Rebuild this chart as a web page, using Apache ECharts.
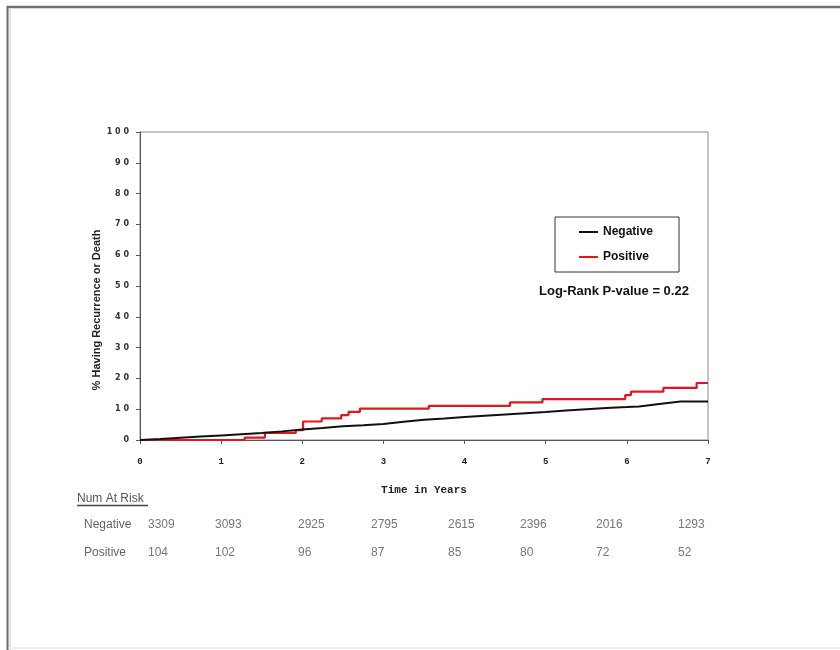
<!DOCTYPE html>
<html>
<head>
<meta charset="utf-8">
<script src="https://cdn.jsdelivr.net/npm/echarts@6/dist/echarts.min.js"></script>
<style>
  html, body { margin: 0; padding: 0; background: #fff; }
  #chart { width: 840px; height: 650px; }
</style>
</head>
<body>
<div id="chart"></div>
<script>
// cumulative % having recurrence or death, [years, percent]
const negativeCurve = [
  [0, 0], [0.25, 0.3], [0.5, 0.7], [0.75, 1.1], [1, 1.5], [1.25, 1.9], [1.5, 2.3],
  [1.75, 2.8], [2, 3.4], [2.25, 3.9], [2.5, 4.5], [2.75, 4.8], [3, 5.2], [3.25, 5.9],
  [3.5, 6.6], [3.75, 7.0], [4, 7.5], [4.25, 7.9], [4.5, 8.3], [4.75, 8.7], [5, 9.1],
  [5.25, 9.6], [5.5, 10.0], [5.75, 10.4], [6, 10.7], [6.15, 10.9], [6.4, 11.7],
  [6.66, 12.5], [7, 12.5]
];
const positiveCurve = [
  [0, 0], [1.29, 0.8], [1.54, 2.3], [1.92, 3.2], [2.01, 6.0], [2.24, 7.0], [2.48, 8.1],
  [2.57, 9.1], [2.71, 10.2], [3.56, 11.1], [4.56, 12.2], [4.96, 13.3], [5.98, 14.6],
  [6.05, 15.7], [6.45, 16.9], [6.86, 18.5], [7, 18.5]
];

// number at risk table
const riskGroups = ['Negative', 'Positive'];
const negativeAtRisk = [3309, 3093, 2925, 2795, 2615, 2396, 2016, 1293];
const positiveAtRisk = [104, 102, 96, 87, 85, 80, 72, 52];

// layout of the table columns (page pixels)
const riskColX = [148, 215, 298, 371, 448, 520, 596, 678];
const riskRowY = [525, 553];

const chart = echarts.init(document.getElementById('chart'));

const graphics = [
  // page frame
  {type: 'line', shape: {x1: 7, y1: 7, x2: 840, y2: 7}, style: {stroke: '#707070', lineWidth: 2.5}},
  {type: 'line', shape: {x1: 7.5, y1: 6, x2: 7.5, y2: 650}, style: {stroke: '#6a6a6a', lineWidth: 2}},
  {type: 'line', shape: {x1: 10, y1: 9, x2: 10, y2: 650}, style: {stroke: '#e4e4e4', lineWidth: 2}},
  {type: 'line', shape: {x1: 9, y1: 648, x2: 840, y2: 648}, style: {stroke: '#eeeeee', lineWidth: 2}},
  // y axis title
  {
    type: 'text', x: 97, y: 310, rotation: Math.PI / 2,
    style: {
      text: '% Having Recurrence or Death', fill: '#222',
      font: 'bold 11px "Liberation Sans", Arial, sans-serif',
      align: 'center', verticalAlign: 'middle'
    }
  },
  // p-value
  {
    type: 'text', x: 539, y: 291,
    style: {
      text: 'Log-Rank P-value = 0.22', fill: '#111',
      font: 'bold 13px "Liberation Sans", Arial, sans-serif',
      align: 'left', verticalAlign: 'middle'
    }
  },
  // table header
  {
    type: 'text', x: 77, y: 499,
    style: {
      text: 'Num At Risk', fill: '#555',
      font: '12px "Liberation Sans", Arial, sans-serif',
      align: 'left', verticalAlign: 'middle'
    }
  },
  {type: 'line', shape: {x1: 77, y1: 505.5, x2: 148, y2: 505.5}, style: {stroke: '#444', lineWidth: 1.5}}
];

const riskRows = [negativeAtRisk, positiveAtRisk];
riskGroups.forEach((name, r) => {
  graphics.push({
    type: 'text', x: 84, y: riskRowY[r],
    style: {
      text: name, fill: '#666',
      font: '12px "Liberation Sans", Arial, sans-serif',
      align: 'left', verticalAlign: 'middle'
    }
  });
  riskRows[r].forEach((v, i) => {
    graphics.push({
      type: 'text', x: riskColX[i], y: riskRowY[r],
      style: {
        text: String(v), fill: '#777',
        font: '12px "Liberation Sans", Arial, sans-serif',
        align: 'left', verticalAlign: 'middle'
      }
    });
  });
});

chart.setOption({
  animation: false,
  backgroundColor: '#fff',
  grid: {
    left: 140, right: 132, top: 132, bottom: 210,
    show: true, borderColor: '#8a8a8a', borderWidth: 1, backgroundColor: 'transparent'
  },
  legend: {
    data: riskGroups,
    orient: 'vertical',
    left: 555, top: 217,
    icon: 'rect',
    itemWidth: 19, itemHeight: 2, itemGap: 13,
    padding: [9, 26, 9, 24],
    borderColor: '#333', borderWidth: 1,
    textStyle: {
      color: '#111', fontWeight: 'bold', fontSize: 12,
      fontFamily: '"Liberation Sans", Arial, sans-serif'
    }
  },
  xAxis: {
    type: 'value', min: 0, max: 7, interval: 1,
    name: 'Time in Years', nameLocation: 'middle', nameGap: 45,
    nameTextStyle: {color: '#222', fontWeight: 'bold', fontSize: 11, fontFamily: '"Liberation Mono", monospace'},
    axisLine: {show: true, lineStyle: {color: '#555', width: 1}},
    axisTick: {show: true, length: 4, lineStyle: {color: '#555'}},
    axisLabel: {color: '#222', fontWeight: 'bold', fontSize: 9, margin: 17, fontFamily: '"Liberation Mono", monospace'},
    splitLine: {show: false}
  },
  yAxis: {
    type: 'value', min: 0, max: 100, interval: 10,
    axisLine: {show: true, lineStyle: {color: '#555', width: 1}},
    axisTick: {show: true, length: 4, lineStyle: {color: '#555'}},
    axisLabel: {
      color: '#333', fontWeight: 'bold', fontSize: 8, margin: 11,
      fontFamily: '"DejaVu Sans", sans-serif',
      formatter: v => String(v).split('').join(' ')
    },
    splitLine: {show: false}
  },
  series: [
    {
      name: 'Negative', type: 'line', data: negativeCurve,
      showSymbol: false, color: '#111',
      lineStyle: {color: '#111', width: 2}, z: 3
    },
    {
      name: 'Positive', type: 'line', data: positiveCurve, step: 'end',
      showSymbol: false, color: '#e3161d',
      lineStyle: {color: '#e3161d', width: 2.2}, z: 2
    }
  ],
  graphic: graphics
});
</script>
</body>
</html>
